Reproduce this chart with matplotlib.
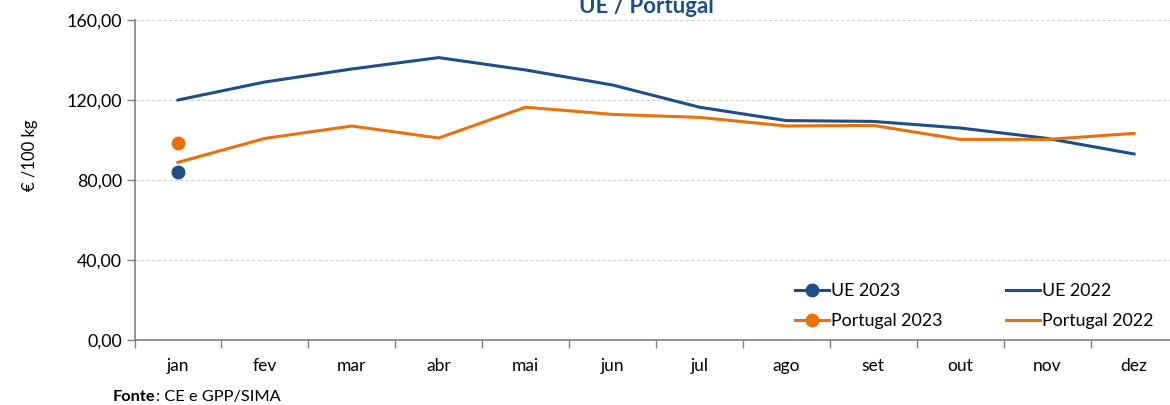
import numpy as np
import matplotlib
matplotlib.use("Agg")
import matplotlib.pyplot as plt
from matplotlib.ticker import FuncFormatter

plt.rcParams['font.family'] = ['Lato', 'DejaVu Sans']

months = ["jan", "fev", "mar", "abr", "mai", "jun", "jul", "ago", "set", "out", "nov", "dez"]
ue_2022 = [120.0, 129.0, 135.5, 141.2, 135.0, 127.5, 116.4, 109.7, 109.3, 106.0, 100.8, 93.0]
pt_2022 = [88.8, 100.8, 107.0, 101.0, 116.4, 112.8, 111.3, 107.0, 107.3, 100.3, 100.3, 103.3]
ue_2023 = [84.0] + [np.nan] * 11
pt_2023 = [98.3] + [np.nan] * 11

BLUE = "#1F4E87"
ORANGE = "#E8710C"

W, H = 1170, 405
fig = plt.figure(figsize=(W / 100, H / 100), dpi=100)
ax = fig.add_axes([134.5 / W, (H - 340) / H, 1043 / W, 320 / H])

x = np.arange(len(months))
ax.plot(x, ue_2023, color=BLUE, lw=2.2, marker='o', ms=9, label="UE 2023")
ax.plot(x, pt_2023, color=ORANGE, lw=2.2, marker='o', ms=9, label="Portugal 2023")
ax.plot(x, ue_2022, color=BLUE, lw=2.2, label="UE 2022")
ax.plot(x, pt_2022, color=ORANGE, lw=2.2, label="Portugal 2022")

ax.set_xlim(-0.5, 11.5)
ax.set_ylim(0, 160)
ax.set_yticks([0, 40, 80, 120, 160])
ax.yaxis.set_major_formatter(FuncFormatter(lambda v, p: f"{v:.2f}".replace(".", ",")))
ax.set_xticks(x)
ax.set_xticklabels(months)
ax.set_xticks(np.arange(-0.5, 12, 1), minor=True)
ax.tick_params(axis='x', which='major', length=0, pad=13, labelsize=12.5, colors='#000000')
ax.tick_params(axis='x', which='minor', length=6, width=1, color='#808080')
ax.tick_params(axis='y', length=6, width=1, color='#808080', labelsize=12.8, pad=3)

ax.grid(axis='y', color='#D0D0D0', linestyle=(0, (3, 2)), lw=0.8)
ax.set_axisbelow(True)
for s in ['top', 'right']:
    ax.spines[s].set_visible(False)
for s in ['left', 'bottom']:
    ax.spines[s].set_color('#808080')
    ax.spines[s].set_linewidth(1.2)

handles, labels = ax.get_legend_handles_labels()
leg = fig.legend(handles, labels,
                 ncol=2, loc='upper left', bbox_to_anchor=(795 / W, 1 - 283 / H),
                 frameon=False, fontsize=12.8, handlelength=1.9, handletextpad=0.1,
                 columnspacing=3.6, labelspacing=0.8, borderpad=0, borderaxespad=0)

fig.text(646 / W, 1 - 13 / H, "UE / Portugal", ha='center', va='baseline',
         fontsize=16, fontweight='bold', color=BLUE)
fig.text(30 / W, 1 - 155 / H, "€ /100 kg", rotation=90, ha='center', va='center',
         fontsize=12)
t1 = fig.text(113 / W, 1 - 397 / H, "Fonte", ha='left', va='center', fontsize=11.8,
              fontweight='bold')
fig.canvas.draw()
bb = t1.get_window_extent()
fig.text(bb.x1 / W, 1 - 397 / H, ": CE e GPP/SIMA", ha='left', va='center', fontsize=11.8)

fig.savefig("out.png", dpi=100)
